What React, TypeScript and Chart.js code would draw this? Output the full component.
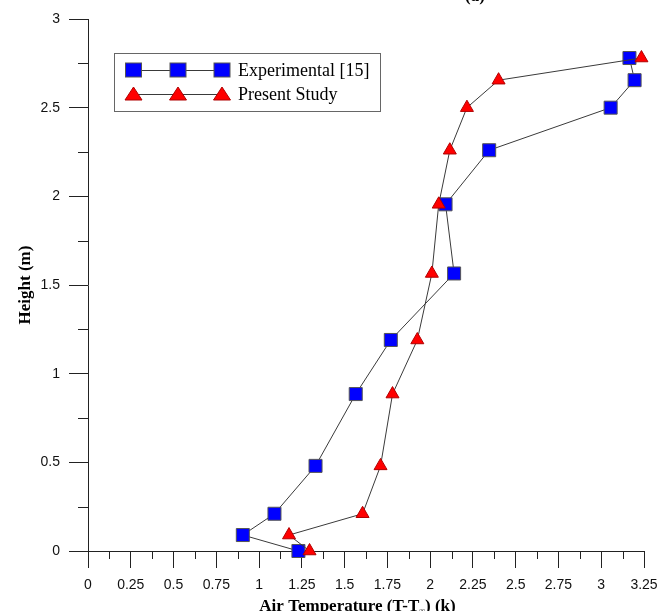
import React, { useEffect, useRef } from 'react';
import { Chart, registerables } from 'chart.js';

Chart.register(...registerables);

// Heights (m) shared by both series
const heights = [0, 0.09, 0.21, 0.48, 0.885, 1.19, 1.565, 1.955, 2.26, 2.5, 2.655, 2.78];
// Air temperature (T - T∞) (k)
const experimentalTemp = [1.23, 0.905, 1.09, 1.33, 1.565, 1.77, 2.14, 2.09, 2.345, 3.055, 3.195, 3.165];
const presentTemp = [1.295, 1.175, 1.605, 1.71, 1.78, 1.925, 2.01, 2.05, 2.115, 2.215, 2.4, 3.235];

const xTickValues = [0, 0.25, 0.5, 0.75, 1, 1.25, 1.5, 1.75, 2, 2.25, 2.5, 2.75, 3, 3.25];
const xTickLabels = ['0', '0.25', '0.5', '0.75', '1', '1.25', '1.5', '1.75', '2', '2.25', '2.5', '2.75', '3', '3.25'];
const yTickValues = [0, 0.5, 1, 1.5, 2, 2.5, 3];
const yTickLabels = ['0', '0.5', '1', '1.5', '2', '2.5', '3'];
const xMinorTicks = [0.125, 0.375, 0.625, 0.875, 1.125, 1.375, 1.625, 1.875, 2.125, 2.375, 2.625, 2.875, 3.125];
const yMinorTicks = [0.25, 0.75, 1.25, 1.75, 2.25, 2.75];

const seriesNames = ['Experimental [15]', 'Present Study'];
const xTitle = ['Air Temperature (T-T', '∞', ') (k)'];
const yTitle = 'Height (m)';
const panelTitle = '(a)';

const AXIS = '#222';
const LINE = '#3a3a3a';

const decorPlugin = {
  id: 'decor',
  afterDraw(chart: any) {
    const ctx = chart.ctx;
    const xs = chart.scales.x;
    const ys = chart.scales.y;
    const area = chart.chartArea;
    ctx.save();
    // minor ticks
    ctx.strokeStyle = AXIS;
    ctx.lineWidth = 1;
    ctx.beginPath();
    xMinorTicks.forEach((v) => {
      const px = Math.round(xs.getPixelForValue(v)) + 0.5;
      ctx.moveTo(px, area.bottom);
      ctx.lineTo(px, area.bottom + 8);
    });
    yMinorTicks.forEach((v) => {
      const py = Math.round(ys.getPixelForValue(v)) + 0.5;
      ctx.moveTo(area.left - 10, py);
      ctx.lineTo(area.left, py);
    });
    ctx.stroke();

    // legend
    ctx.strokeStyle = '#666';
    ctx.lineWidth = 1;
    ctx.strokeRect(114.5, 53.5, 266, 58);
    const mx = [133.5, 178, 222];
    const rows = [70, 94];
    ctx.strokeStyle = LINE;
    rows.forEach((ry) => {
      ctx.beginPath();
      ctx.moveTo(mx[0], ry + 0.5);
      ctx.lineTo(mx[2], ry + 0.5);
      ctx.stroke();
    });
    mx.forEach((x) => {
      ctx.fillStyle = '#0000FF';
      ctx.fillRect(x - 8, rows[0] - 7, 16, 14);
      ctx.strokeStyle = '#555';
      ctx.strokeRect(x - 8, rows[0] - 7, 16, 14);
      ctx.beginPath();
      ctx.moveTo(x, rows[1] - 7);
      ctx.lineTo(x + 8.5, rows[1] + 6);
      ctx.lineTo(x - 8.5, rows[1] + 6);
      ctx.closePath();
      ctx.fillStyle = '#FF0000';
      ctx.fill();
      ctx.strokeStyle = '#B00000';
      ctx.stroke();
    });
    ctx.fillStyle = '#000';
    ctx.font = '18px "Liberation Serif", "Times New Roman", serif';
    ctx.textBaseline = 'middle';
    ctx.textAlign = 'left';
    ctx.fillText(seriesNames[0], 238, rows[0] + 1);
    ctx.fillText(seriesNames[1], 238, rows[1] + 1);

    // axis titles
    ctx.font = 'bold 17px "Liberation Serif", "Times New Roman", serif';
    ctx.textBaseline = 'alphabetic';
    const w1 = ctx.measureText(xTitle[0]).width;
    const w3 = ctx.measureText(xTitle[2]).width;
    ctx.font = 'bold 8px "Liberation Serif", serif';
    const w2 = ctx.measureText(xTitle[1]).width;
    const total = w1 + w2 + w3;
    const x0 = 357.5 - total / 2;
    const base = 611;
    ctx.font = 'bold 17px "Liberation Serif", "Times New Roman", serif';
    ctx.fillText(xTitle[0], x0, base);
    ctx.font = 'bold 8px "Liberation Serif", serif';
    ctx.fillText(xTitle[1], x0 + w1, base + 2);
    ctx.font = 'bold 17px "Liberation Serif", "Times New Roman", serif';
    ctx.fillText(xTitle[2], x0 + w1 + w2, base);

    ctx.save();
    ctx.translate(29.5, 285);
    ctx.rotate(-Math.PI / 2);
    ctx.textAlign = 'center';
    ctx.fillText(yTitle, 0, 0);
    ctx.restore();

    ctx.textAlign = 'center';
    ctx.fillText(panelTitle, 475, 1);
    ctx.restore();
  },
};

export default function App() {
  const ref = useRef<HTMLCanvasElement | null>(null);
  useEffect(() => {
    if (!ref.current) return;
    const chart = new Chart(ref.current, {
      type: 'scatter',
      data: {
        datasets: [
          {
            label: seriesNames[0],
            data: experimentalTemp.map((x, i) => ({ x, y: heights[i] })),
            showLine: true,
            borderColor: LINE,
            borderWidth: 1,
            pointStyle: 'rect',
            pointRadius: 9.2,
            pointHoverRadius: 9.2,
            pointBackgroundColor: '#0000FF',
            pointBorderColor: '#555',
            pointBorderWidth: 1,
            clip: false,
            order: 2,
          } as any,
          {
            label: seriesNames[1],
            data: presentTemp.map((x, i) => ({ x, y: heights[i] })),
            showLine: true,
            borderColor: LINE,
            borderWidth: 1,
            pointStyle: 'triangle',
            pointRadius: 7.5,
            pointHoverRadius: 7.5,
            pointBackgroundColor: '#FF0000',
            pointBorderColor: '#B00000',
            pointBorderWidth: 1,
            clip: false,
            order: 1,
          } as any,
        ],
      },
      options: {
        animation: false,
        responsive: false,
        events: [],
        layout: { padding: { top: 19, right: 28, left: 0, bottom: 0 } },
        plugins: { legend: { display: false }, tooltip: { enabled: false } },
        scales: {
          x: {
            type: 'linear',
            min: 0,
            max: 3.25,
            afterFit: (s: any) => { s.height = 60; },
            afterBuildTicks: (s: any) => { s.ticks = xTickValues.map((v) => ({ value: v })); },
            ticks: {
              autoSkip: false,
              maxRotation: 0,
              padding: 9,
              color: '#111',
              font: { family: '"Liberation Sans", Arial, sans-serif', size: 14 },
              callback: (v: any) => { const i = xTickValues.indexOf(Number(v)); return i >= 0 ? xTickLabels[i] : ''; },
            },
            grid: { display: true, drawOnChartArea: false, drawTicks: true, tickLength: 17, color: AXIS, lineWidth: 1 },
            border: { display: true, color: AXIS, width: 1 },
          },
          y: {
            type: 'linear',
            min: 0,
            max: 3,
            afterFit: (s: any) => { s.width = 88; },
            afterBuildTicks: (s: any) => { s.ticks = yTickValues.map((v) => ({ value: v })); },
            ticks: {
              autoSkip: false,
              padding: 9,
              color: '#111',
              font: { family: '"Liberation Sans", Arial, sans-serif', size: 14 },
              callback: (v: any) => { const i = yTickValues.indexOf(Number(v)); return i >= 0 ? yTickLabels[i] : ''; },
            },
            grid: { display: true, drawOnChartArea: false, drawTicks: true, tickLength: 19, color: AXIS, lineWidth: 1 },
            border: { display: true, color: AXIS, width: 1 },
          },
        },
      },
      plugins: [decorPlugin],
    } as any);
    return () => chart.destroy();
  }, []);
  return (
    <div style={{ position: 'absolute', left: 0, top: 0, width: 672, height: 611 }}>
      <canvas ref={ref} width={672} height={611} style={{ display: 'block', width: 672, height: 611 }} />
    </div>
  );
}
